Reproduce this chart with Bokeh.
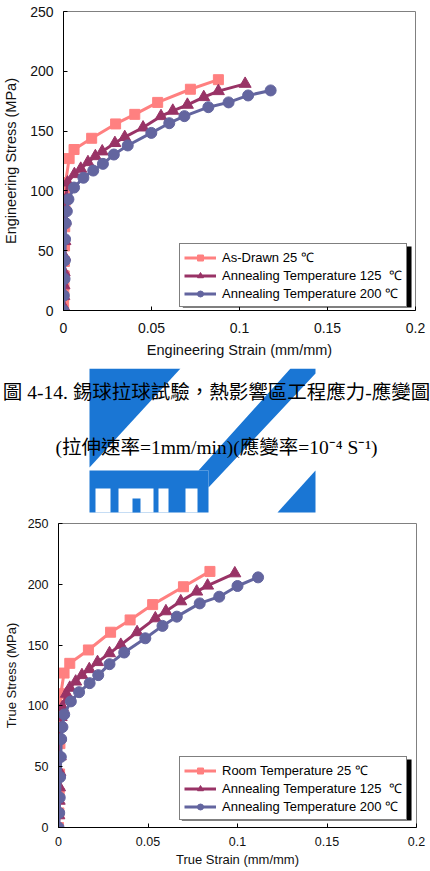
from bokeh.plotting import figure
from bokeh.models import Range1d, FixedTicker, Legend, LegendItem, Label
from bokeh.layouts import column
from bokeh.embed import file_html
from bokeh.resources import INLINE

# ---------------- data ----------------
x_ticks = [0, 0.05, 0.1, 0.15, 0.2]
x_tick_labels = ["0", "0.05", "0.1", "0.15", "0.2"]
y_ticks = [0, 50, 100, 150, 200, 250]
y_tick_labels = ["0", "50", "100", "150", "200", "250"]

eng_labels = ["As-Drawn 25 \u2103", "Annealing Temperature 125  \u2103", "Annealing Temperature 200 \u2103"]
true_labels = ["Room Temperature 25 \u2103", "Annealing Temperature 125  \u2103", "Annealing Temperature 200 \u2103"]

eng_25_strain = [0, 0.0001, 0.0002, 0.0003, 0.0004, 0.0005, 0.0006, 0.0007, 0.0008, 0.0009, 0.0012,
                 0.0032, 0.006, 0.016, 0.0296, 0.0405, 0.0535, 0.0721, 0.088]
eng_25_stress = [0, 6, 15, 22, 29, 41, 54, 70, 85, 99, 107, 127, 134.6, 144, 156, 164, 174, 185, 193]

eng_125_strain = [0, 0.0001, 0.0002, 0.0003, 0.0004, 0.0006, 0.0008, 0.0010, 0.0013, 0.0023, 0.0062,
                  0.0098, 0.0139, 0.0181, 0.0220, 0.0292, 0.0348, 0.0452, 0.0554, 0.0621, 0.0704,
                  0.0797, 0.0880, 0.1032]
eng_125_stress = [0, 3, 12, 21, 32, 45, 58, 75, 93, 107, 114, 118.5, 124, 129, 133, 140, 145, 153,
                  162.5, 167, 172, 178.4, 183.4, 189.5]

eng_200_strain = [0, 0.0002, 0.0006, 0.0008, 0.0009, 0.0013, 0.0019, 0.0028, 0.006, 0.0113, 0.0169,
                  0.0224, 0.0286, 0.0365, 0.0499, 0.0601, 0.0687, 0.0823, 0.0938, 0.1049, 0.1177]
eng_200_stress = [0, 12.5, 26.5, 42, 59.6, 73, 83, 93, 102.8, 111, 117, 122.6, 130.4, 138, 148.5,
                  156.6, 162.5, 170, 174, 179.8, 184]

true_25_strain = [0, 0.0002, 0.0004, 0.0006, 0.0008, 0.0010, 0.0013, 0.0031, 0.0063, 0.0167, 0.0291,
                  0.0400, 0.0526, 0.0698, 0.0846]
true_25_stress = [0, 12, 28, 44, 69, 99, 110, 127, 135, 146, 160.6, 170.7, 183.3, 198, 210.6]

true_125_strain = [0, 0.0002, 0.0004, 0.0006, 0.0008, 0.0010, 0.0012, 0.0015, 0.0022, 0.0044, 0.0063,
                   0.0096, 0.0131, 0.0172, 0.0218, 0.0285, 0.0348, 0.0439, 0.0541, 0.0600, 0.0683,
                   0.0772, 0.0833, 0.0985]
true_125_stress = [0, 10, 22, 33, 45.6, 58.5, 74, 90.8, 99, 110, 114.9, 120, 125.3, 130.2, 136, 143.3,
                   150.2, 160.6, 172, 177.8, 186, 194, 198.9, 209]

true_200_strain = [0, 0.0004, 0.0007, 0.0009, 0.0013, 0.0015, 0.0022, 0.0032, 0.0069, 0.0115, 0.0174,
                   0.0222, 0.0285, 0.0367, 0.0485, 0.0581, 0.0661, 0.0789, 0.0898, 0.1000, 0.1115]
true_200_stress = [0, 12, 24.6, 41.5, 58, 72.7, 82.6, 93, 103.7, 111.3, 118.7, 125.3, 134.3, 143.9,
                   155.6, 165.8, 173.4, 184.3, 189.8, 198.6, 205.7]

caption_line1 = "圖 4-14. 錫球拉球試驗，熱影響區工程應力-應變圖"
caption_line2 = "(拉伸速率=1mm/min)(應變率=10\u207b\u2074 S\u207b\u00b9)"

# ---------------- styles ----------------
W = 430
COLORS = ["#FF8080", "#993366", "#63659F"]
MARKERS = ["square", "triangle", "circle"]
MSIZES = [10, 12, 11]
SANS = "Liberation Sans"


def chart(height, fl, fr, ft, fb, xtitle, ytitle, series, labels, legend_loc, shadow_box,
          tick_px, title_px, legend_px, x_std, x_lstd, y_std, y_lstd):
    p = figure(width=W, height=height, output_backend="svg", toolbar_location=None,
               x_range=Range1d(0, 0.2), y_range=Range1d(0, 250),
               min_border_left=fl, min_border_right=W - fr,
               min_border_top=ft, min_border_bottom=height - fb)
    p.frame_align = False
    p.grid.visible = False
    p.outline_line_color = "#808080"
    p.outline_line_width = 1
    p.background_fill_color = "white"
    p.border_fill_color = "white"

    fw = fr - fl
    fh = fb - ft

    def dx(px):
        return (px - fl) / fw * 0.2

    def dy(py):
        return (fb - py) / fh * 250

    for ax, ticks, labs in ((p.xaxis[0], x_ticks, x_tick_labels), (p.yaxis[0], y_ticks, y_tick_labels)):
        ax.ticker = FixedTicker(ticks=ticks)
        ax.major_label_overrides = {t: l for t, l in zip(ticks, labs)}
        ax.major_tick_in = 4
        ax.major_tick_out = 0
        ax.minor_tick_in = 0
        ax.minor_tick_out = 0
        ax.axis_line_color = "black"
        ax.major_tick_line_color = "black"
        ax.major_label_text_font = SANS
        ax.major_label_text_font_size = tick_px
        ax.major_label_text_color = "#111111"
        ax.axis_label_text_font = SANS
        ax.axis_label_text_font_size = title_px
        ax.axis_label_text_font_style = "normal"
        ax.axis_label_text_color = "#111111"
    p.xaxis.axis_label = xtitle
    p.yaxis.axis_label = ytitle
    p.xaxis.major_label_standoff = x_std
    p.xaxis.axis_label_standoff = x_lstd
    p.yaxis.major_label_standoff = y_std
    p.yaxis.axis_label_standoff = y_lstd

    # legend shadow
    sl, st, sr, sb = shadow_box
    p.quad(left=[dx(sl)], right=[dx(sr)], top=[dy(st)], bottom=[dy(sb)],
           fill_color="black", line_color=None)

    items = []
    for (xs, ys), col, mk, ms, lab in zip(series, COLORS, MARKERS, MSIZES, labels):
        lr = p.line(xs, ys, line_color=col, line_width=3)
        sr_ = p.scatter(xs, ys, marker=mk, size=ms, fill_color=col, line_color=col)
        items.append(LegendItem(label=lab, renderers=[lr, sr_]))

    leg = Legend(items=items, location=legend_loc, margin=0,
                 padding=4, spacing=0, glyph_width=32, glyph_height=15,
                 label_height=15, label_standoff=6,
                 label_text_font=SANS, label_text_font_size=legend_px, label_text_color="black",
                 border_line_color="black", border_line_width=1,
                 background_fill_color="white", background_fill_alpha=1.0)
    p.add_layout(leg)
    return p


p1 = chart(368, 61, 415, 11, 310,
           "Engineering Strain (mm/mm)", "Engineering Stress (MPa)",
           [(eng_25_strain, eng_25_stress), (eng_125_strain, eng_125_stress),
            (eng_200_strain, eng_200_stress)],
           eng_labels, (116, 3), (181, 246, 411, 307),
           "14px", "14.5px", "13px", 12, 6, 10, 8)

# ---------------- caption + logo strip ----------------
MH = 146


def fy(v):
    # offset from top of strip -> data y
    return MH - v


BLUE = "#1A76D4"
logo_xs = [[89, 180, 89],
           [290, 315, 315, 208, 208, 198],
           [89, 208, 208, 89],
           [315, 315, 277]]
logo_ys = [[fy(v) for v in s] for s in
           [[0, 0, 99],
            [0, 0, 5, 119, 102, 102],
            [102, 102, 144, 144],
            [102, 144, 144]]]

mid = figure(width=W, height=MH, output_backend="svg", toolbar_location=None,
             x_range=Range1d(0, W), y_range=Range1d(0, MH), title=None,
             x_axis_type=None, y_axis_type=None,
             min_border_left=0, min_border_right=0, min_border_top=0, min_border_bottom=0)
mid.frame_align = False
mid.grid.visible = False
mid.outline_line_color = None
mid.background_fill_color = "white"
mid.border_fill_color = "white"
mid.patches(logo_xs, logo_ys, fill_color=BLUE, line_color=None)
mid.quad(left=[95, 118, 158, 185], right=[110, 153, 168, 197], top=[fy(120)] * 4,
         bottom=[fy(144)] * 4, fill_color="white", line_color=None)
mid.quad(left=[132], right=[140], top=[fy(130)], bottom=[fy(144)], fill_color=BLUE, line_color=None)

CAP_FONT = "Liberation Serif, Noto Sans CJK TC"
for txt, yy in ((caption_line1, 24), (caption_line2, 79)):
    mid.add_layout(Label(x=216, y=fy(yy), text=txt, text_font=CAP_FONT, text_font_size="19.5px",
                         text_align="center", text_baseline="middle", text_color="black"))

p2 = chart(357, 56, 416, 9, 313,
           "True Strain (mm/mm)", "True Stress (MPa)",
           [(true_25_strain, true_25_stress), (true_125_strain, true_125_stress),
            (true_200_strain, true_200_stress)],
           true_labels, (121, 7), (180, 245, 411, 306),
           "12.5px", "13px", "13px", 9, 3, 10, 6)

layout = column(p1, mid, p2, spacing=0)
open("out.html", "w").write(file_html(layout, INLINE))
